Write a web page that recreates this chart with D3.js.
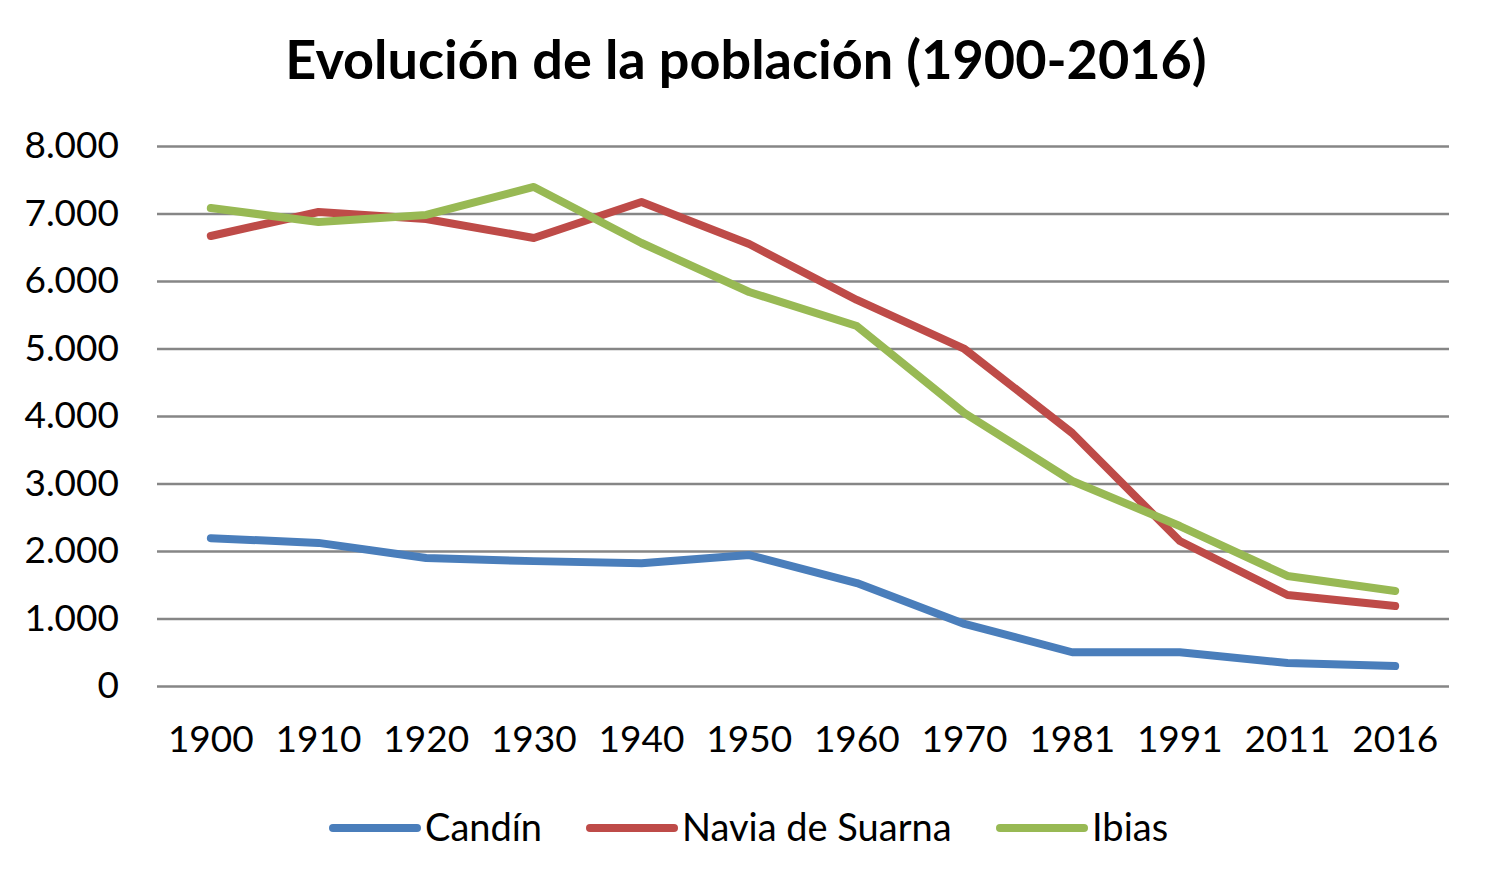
<!DOCTYPE html>
<html><head><meta charset="utf-8">
<script src="https://cdn.jsdelivr.net/npm/d3@7"></script>
<style>body{margin:0;background:#fff}svg{display:block}</style>
</head><body>
<svg id="c" width="1492" height="876"></svg>
<script>
const years = ["1900","1910","1920","1930","1940","1950","1960","1970","1981","1991","2011","2016"];
const candin = [2190,2120,1896,1850,1820,1940,1525,920,500,500,340,296];
const navia  = [6667,7022,6919,6637,7170,6548,5719,4993,3748,2148,1348,1185];
const ibias  = [7081,6874,6978,7393,6563,5837,5333,4044,3037,2370,1630,1407];
const seriesNames = ["Candín","Navia de Suarna","Ibias"];
const seriesColors = ["#4A7EBB","#BE4B48","#98B954"];
const yTicks = [0,1000,2000,3000,4000,5000,6000,7000,8000];
const title = "Evolución de la población (1900-2016)";

const font = "Lato, 'Open Sans', sans-serif";
const svg = d3.select("#c");
const L = 157, R = 1449, T = 146, B = 686;
const x = d3.scaleBand().domain(years).range([L, R]);
const y = d3.scaleLinear().domain([0, 8000]).range([B, T]);

svg.append("text").attr("x", 746).attr("y", 79).attr("text-anchor","middle")
  .attr("font-family", font).attr("font-weight","bold").attr("font-size", 54)
  .text(title);

const fmt = v => v === 0 ? "0" : d3.format(",")(v).replace(/,/g, ".");
const yAxis = svg.append("g").attr("transform", `translate(${L},0)`)
  .call(d3.axisLeft(y).tickValues(yTicks).tickSize(-(R - L)).tickPadding(38).tickFormat(fmt));
yAxis.select(".domain").remove();
yAxis.selectAll(".tick line").attr("stroke", "#868686").attr("stroke-width", 2.5);
yAxis.selectAll(".tick text").attr("font-family", font).attr("font-size", 37).attr("fill", "#000");

const xAxis = svg.append("g").attr("transform", `translate(0,${B})`)
  .call(d3.axisBottom(x).tickSize(0).tickPadding(40));
xAxis.select(".domain").remove();
xAxis.selectAll(".tick text").attr("font-family", font).attr("font-size", 37).attr("fill", "#000");

const line = d3.line().x((d, i) => x(years[i]) + x.bandwidth() / 2).y(d => y(d));
[candin, navia, ibias].forEach((s, k) => {
  svg.append("path").datum(s).attr("d", line).attr("fill", "none")
    .attr("stroke", seriesColors[k]).attr("stroke-width", 8)
    .attr("stroke-linejoin", "round").attr("stroke-linecap", "round");
});

const legX = [333, 590, 1000];
seriesNames.forEach((n, k) => {
  svg.append("line").attr("x1", legX[k]).attr("x2", legX[k] + 84).attr("y1", 828).attr("y2", 828)
    .attr("stroke", seriesColors[k]).attr("stroke-width", 8).attr("stroke-linecap", "round");
  svg.append("text").attr("x", legX[k] + 92).attr("y", 841).attr("font-family", font)
    .attr("font-size", 38).attr("fill", "#000").text(n);
});
</script>
</body></html>
